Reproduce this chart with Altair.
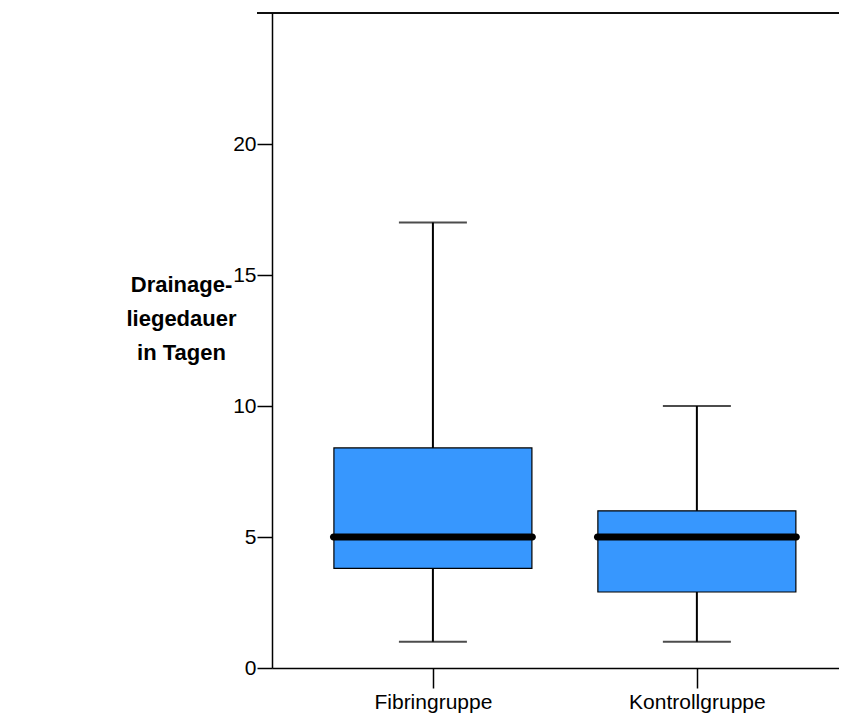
import altair as alt
import pandas as pd

groups = ["Fibringruppe", "Kontrollgruppe"]
minimum = [1, 1]
q1 = [3.8, 2.9]
median = [5, 5]
q3 = [8.4, 6]
maximum = [17, 10]
y_ticks = [0, 5, 10, 15, 20]
y_title = ["Drainage-", "liegedauer", "in Tagen"]

df = pd.DataFrame({
    "group": groups, "lower": minimum, "q1": q1,
    "median": median, "q3": q3, "upper": maximum,
})

FONT = "Liberation Sans"
W, H = 567, 655

xs = alt.Scale(type="point", padding=0.574, align=0.531)
ys = alt.Scale(domain=[0, 25], nice=False, zero=True)

x_enc = alt.X("group:N", scale=xs, sort=groups, axis=alt.Axis(
    title=None, labelAngle=0, labelFont=FONT, labelFontSize=21, labelColor="black",
    labelPadding=3, tickSize=20, tickWidth=1.5, tickColor="black",
    domainColor="black", domainWidth=1.5, grid=False))

y_axis = alt.Axis(
    values=y_ticks, grid=False, labelFont=FONT, labelFontSize=21, labelColor="black",
    labelPadding=1, tickSize=15, tickWidth=1.5, tickColor="black",
    domainColor="black", domainWidth=1.5,
    title=y_title, titleFont=FONT, titleFontSize=22, titleFontWeight="bold",
    titleColor="black", titleAngle=0, titleAlign="center", titleBaseline="middle",
    titleX=-91, titleY=271, titleLineHeight=34)

base = alt.Chart(df)

whisker = base.mark_rule(color="black", strokeWidth=2).encode(
    x=x_enc, y=alt.Y("lower:Q", scale=ys, axis=y_axis), y2="upper:Q")
cap_low = base.mark_tick(color="black", size=68, thickness=2).encode(
    x=alt.X("group:N", scale=xs, sort=groups), y=alt.Y("lower:Q", scale=ys))
cap_up = base.mark_tick(color="black", size=68, thickness=2).encode(
    x=alt.X("group:N", scale=xs, sort=groups), y=alt.Y("upper:Q", scale=ys))
box = base.mark_bar(size=198, fill="#3797FE", stroke="black", strokeWidth=1.2).encode(
    x=alt.X("group:N", scale=xs, sort=groups), y=alt.Y("q1:Q", scale=ys), y2="q3:Q")
med = base.mark_tick(color="black", size=206, thickness=7, cornerRadius=3.5, opacity=1).encode(
    x=alt.X("group:N", scale=xs, sort=groups), y=alt.Y("median:Q", scale=ys))
top_line = base.mark_rule(color="black", strokeWidth=1.5).encode(
    x=alt.value(-15), x2=alt.value(W), y=alt.value(0))

chart = alt.layer(whisker, cap_low, cap_up, box, med, top_line).properties(
    width=W, height=H,
    autosize=alt.AutoSizeParams(type="none"),
    padding={"left": 264, "top": 5, "right": 0, "bottom": 50},
).configure_view(strokeWidth=0).configure(background="white")

chart.save("out.html", embed_options={"renderer": "svg", "actions": False})
